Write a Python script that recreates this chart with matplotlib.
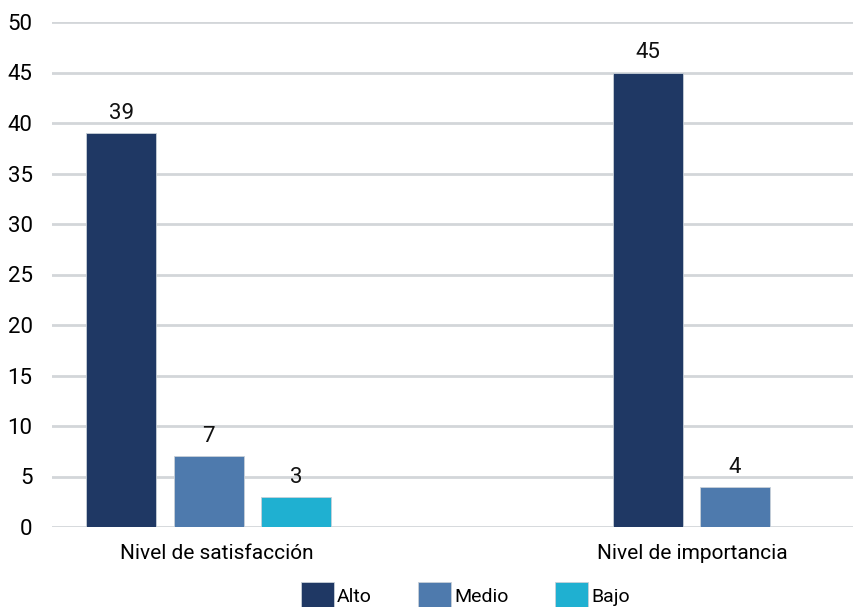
import matplotlib
matplotlib.use("Agg")
import matplotlib.pyplot as plt
import numpy as np

plt.rcParams['font.family'] = ['Roboto', 'DejaVu Sans']

categories = ['Nivel de satisfacción', 'Nivel de importancia']
series = ['Alto', 'Medio', 'Bajo']
alto = [39, 45]
medio = [7, 4]
bajo = [3, None]
colors = ['#1f3864', '#4e7aad', '#1fb0d1']

fig = plt.figure(figsize=(8.54, 6.07), dpi=100)
ax = fig.add_axes([52 / 854, 80 / 607, 802 / 854, 505 / 607])

x = np.arange(len(categories))
width = 0.133
step = 0.166

for i, (name, vals) in enumerate(zip(series, [alto, medio, bajo])):
    xs = [xi + (i - 1) * step for xi, v in zip(x, vals) if v is not None]
    vs = [v for v in vals if v is not None]
    bars = ax.bar(xs, vs, width, color=colors[i], label=name, zorder=3,
                  edgecolor='#c8d0d8', linewidth=0.6)
    for b, v in zip(bars, vs):
        ax.text(b.get_x() + b.get_width() / 2, v + 0.9, str(v), ha='center',
                va='bottom', fontsize=16, color='#111111')

ax.set_xlim(-0.298, 1.226)
ax.set_ylim(0, 50)
ax.set_yticks(range(0, 51, 5))
ax.yaxis.grid(True, color='#d3d6d9', linewidth=2, zorder=0)
ax.set_axisbelow(True)
for s in ax.spines.values():
    s.set_visible(False)
ax.tick_params(axis='both', length=0)
ax.tick_params(axis='y', labelsize=16, pad=14)
ax.set_xticks([0.015, 0.918])
ax.set_xticklabels(categories, fontsize=15)
ax.tick_params(axis='x', pad=12)

fig.legend(loc='center', bbox_to_anchor=(0.545, 11 / 607), ncol=3, frameon=False,
           prop={'size': 14}, handlelength=1.7, handleheight=1.8,
           handletextpad=0.15, columnspacing=2.4)

fig.savefig('out.png', dpi=100)
